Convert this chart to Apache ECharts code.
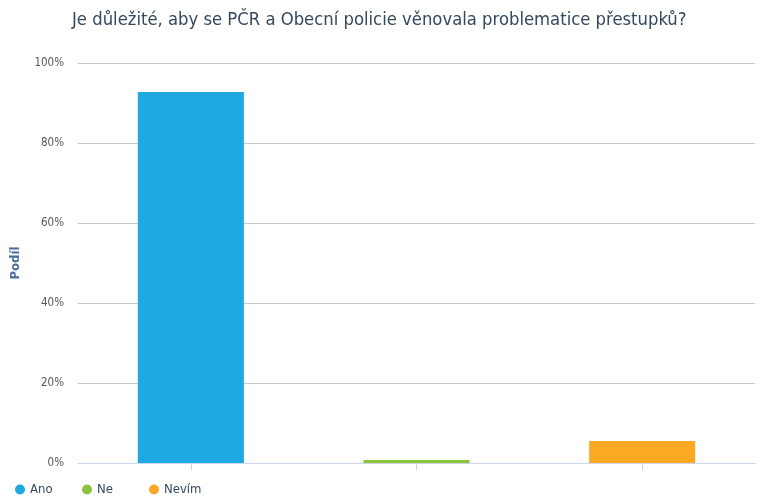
<!DOCTYPE html>
<html>
<head>
<meta charset="utf-8">
<script src="https://cdn.jsdelivr.net/npm/echarts@6/dist/echarts.min.js"></script>
<style>
  html, body { margin: 0; padding: 0; background: #fff; }
  #chart { width: 760px; height: 497px; }
</style>
</head>
<body>
<div id="chart"></div>
<script>
// data
const categories = ['Ano', 'Ne', 'Nevím']
const values = [92.75, 0.75, 5.5]
const colors = ['#1eaae1', '#8cc43f', '#fba824']
const titleText = 'Je důležité, aby se PČR a Obecní policie věnovala problematice přestupků?'

const FONT = 'DejaVu Sans Condensed'
const legendLeft = [15, 82, 149]

let seriesList = categories.map((name, i) => {
  let data = categories.map((c, j) => (j === i ? values[i] : null))
  return {
    name: name,
    type: 'bar',
    data: data,
    barWidth: '47%',
    barGap: '-100%',
    itemStyle: { color: colors[i] },
  }
})

// one legend per item, so the items are evenly spaced like the original
let legendList = categories.map((name, i) => ({
  data: [name],
  left: legendLeft[i],
  top: 483,
  padding: 0,
  icon: 'circle',
  itemWidth: 10,
  itemHeight: 10,
  textStyle: { fontSize: 13, color: '#34495e', fontFamily: FONT },
}))

let option = {
  animation: false,
  textStyle: { fontFamily: FONT },
  title: {
    text: titleText,
    left: 67,
    top: 6,
    textStyle: {
      fontSize: 18.3,
      fontWeight: 'normal',
      color: '#34495e',
      fontFamily: FONT,
    },
  },
  legend: legendList,
  grid: { left: 78, right: 5, top: 63, bottom: 34, containLabel: false },
  xAxis: {
    type: 'category',
    data: categories,
    boundaryGap: true,
    axisLine: { lineStyle: { color: '#ccd6eb' } },
    axisTick: { show: true, alignWithLabel: true, length: 7, lineStyle: { color: '#ccd6eb' } },
    axisLabel: { show: false },
  },
  yAxis: {
    type: 'value',
    min: 0,
    max: 100,
    interval: 20,
    name: 'Podíl',
    nameLocation: 'middle',
    nameGap: 56,
    nameTextStyle: { color: '#4a6fa0', fontWeight: 'bold', fontSize: 13, fontFamily: FONT },
    axisLine: { show: false },
    axisTick: { show: false },
    axisLabel: { formatter: '{value}%', color: '#555', fontSize: 11.5, margin: 14, fontFamily: FONT },
    splitLine: { lineStyle: { color: '#c8c8c8' } },
  },
  series: seriesList,
}

let myChart = echarts.init(document.getElementById('chart'))
myChart.setOption(option)
</script>
</body>
</html>
